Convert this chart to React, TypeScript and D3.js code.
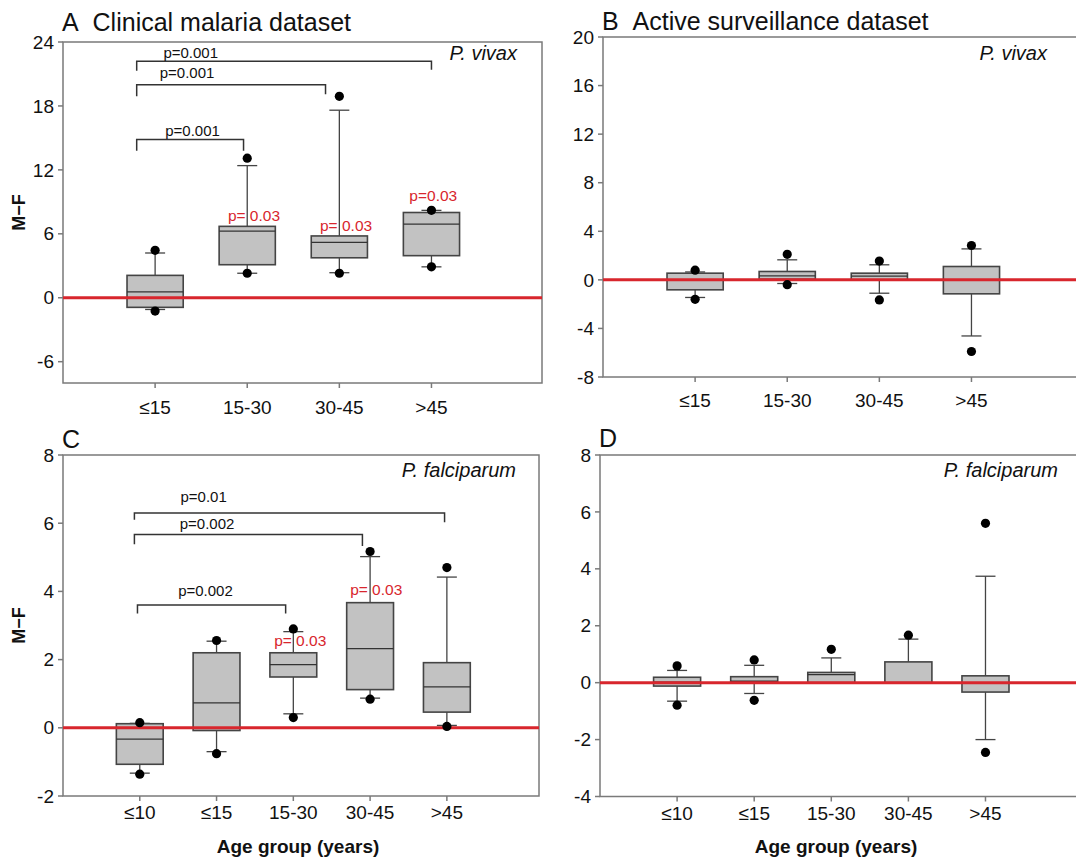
import React from "react";
import { scaleLinear } from "d3";

// age groups
const groupsAB = ["≤15", "15-30", "30-45", ">45"];
const groupsCD = ["≤10", "≤15", "15-30", "30-45", ">45"];

// box stats per group: [lower whisker, q1, median, q3, upper whisker]
const boxesA = [
  [-1.1, -0.9, 0.55, 2.1, 4.2],
  [2.3, 3.1, 6.25, 6.7, 12.4],
  [2.35, 3.75, 5.2, 5.8, 17.6],
  [2.9, 3.95, 6.9, 8.0, 8.2],
];
const boxesB = [
  [-1.45, -0.82, -0.05, 0.55, 0.65],
  [-0.3, 0.05, 0.33, 0.69, 1.65],
  [-1.1, 0.0, 0.3, 0.55, 1.24],
  [-4.62, -1.15, -0.05, 1.1, 2.55],
];
const boxesC = [
  [-1.33, -1.07, -0.33, 0.12, 0.13],
  [-0.7, -0.08, 0.73, 2.2, 2.54],
  [0.41, 1.49, 1.85, 2.2, 2.82],
  [0.87, 1.12, 2.32, 3.67, 5.02],
  [0.07, 0.46, 1.2, 1.91, 4.42],
];
const boxesD = [
  [-0.65, -0.12, 0.02, 0.19, 0.43],
  [-0.38, 0.0, 0.05, 0.21, 0.61],
  [0.0, 0.0, 0.28, 0.36, 0.87],
  [0.0, 0.0, 0.0, 0.73, 1.53],
  [-2.0, -0.33, 0.0, 0.24, 3.74],
];

// outlier dots per group: [low, high]
const dotsA = [[-1.25, 4.45], [2.3, 13.1], [2.3, 18.9], [2.9, 8.2]];
const dotsB = [[-1.6, 0.8], [-0.4, 2.1], [-1.65, 1.55], [-5.9, 2.83]];
const dotsC = [[-1.36, 0.15], [-0.76, 2.56], [0.3, 2.9], [0.84, 5.17], [0.04, 4.7]];
const dotsD = [[-0.79, 0.59], [-0.62, 0.8], [null, 1.17], [null, 1.67], [-2.45, 5.6]];

// y ticks
const ticksA = [-6, 0, 6, 12, 18, 24];
const ticksB = [-8, -4, 0, 4, 8, 12, 16, 20];
const ticksC = [-2, 0, 2, 4, 6, 8];
const ticksD = [-4, -2, 0, 2, 4, 6, 8];

// significance brackets: ends in group units, bar / leg heights in data units
const bracketsA = [
  { a: 0.8, b: 4.0, y: 22.2, ya: 21.3, yb: 21.4, text: "p=0.001", tx: 1.09, ty: 22.46 },
  { a: 0.8, b: 2.85, y: 20.0, ya: 18.9, yb: 19.1, text: "p=0.001", tx: 1.05, ty: 20.6 },
  { a: 0.8, b: 1.96, y: 14.85, ya: 13.8, yb: 13.8, text: "p=0.001", tx: 1.11, ty: 15.17 },
];
const bracketsC = [
  { a: 0.93, b: 4.97, y: 6.3, ya: 6.1, yb: 6.03, text: "p=0.01", tx: 1.53, ty: 6.62 },
  { a: 0.93, b: 3.9, y: 5.67, ya: 5.38, yb: 5.33, text: "p=0.002", tx: 1.52, ty: 5.82 },
  { a: 0.97, b: 2.9, y: 3.6, ya: 3.35, yb: 3.35, text: "p=0.002", tx: 1.5, ty: 3.86 },
];

// red p-values vs. zero
const redA = [
  { text: "p= 0.03", tx: 1.79, ty: 7.2 },
  { text: "p= 0.03", tx: 2.79, ty: 6.26 },
  { text: "p=0.03", tx: 3.76, ty: 9.07 },
];
const redC = [
  { text: "p= 0.03", tx: 2.75, ty: 2.39 },
  { text: "p= 0.03", tx: 3.74, ty: 3.89 },
];

const FONT = "'Liberation Sans', Arial, Helvetica, sans-serif";
const RED = "#d8262d";

const Panel = ({ cfg }) => {
  const {
    left, top, right, bottom, domain, ticks, groups, boxes, dots,
    brackets = [], reds = [], title, species, speciesX, speciesDy,
    xLabelDy, yTitle, xTitle, titleY,
  } = cfg;
  const n = groups.length;
  const x = scaleLinear().domain([0, n + 1.2]).range([left, right]);
  const y = scaleLinear().domain(domain).range([bottom, top]);
  const step = x(1) - x(0);
  const bw = step * 0.61;
  const cap = 10;

  return (
    <g fontFamily={FONT}>
      <text x={left - 1} y={titleY} fontSize={25} fill="#111" xmlSpace="preserve">
        {title}
      </text>
      <rect x={left} y={top} width={right - left} height={bottom - top}
        fill="none" stroke="#7a7a7a" strokeWidth={1.5} />
      {ticks.map((t) => (
        <g key={t}>
          <line x1={left - 5} x2={left} y1={y(t)} y2={y(t)} stroke="#7a7a7a" strokeWidth={1.5} />
          <text x={left - 9} y={y(t)} dy="0.35em" textAnchor="end" fontSize={19} fill="#111">
            {t}
          </text>
        </g>
      ))}
      {groups.map((g, i) => (
        <g key={g + i}>
          <line x1={x(i + 1)} x2={x(i + 1)} y1={bottom} y2={bottom + 5} stroke="#7a7a7a" strokeWidth={1.5} />
          <text x={x(i + 1)} y={bottom + xLabelDy} textAnchor="middle" fontSize={19} fill="#111">
            {g}
          </text>
        </g>
      ))}
      {boxes.map(([lo, q1, med, q3, hi], i) => {
        const cx = x(i + 1);
        return (
          <g key={i} stroke="#444" strokeWidth={1.3}>
            <line x1={cx} x2={cx} y1={y(hi)} y2={y(q3)} />
            <line x1={cx} x2={cx} y1={y(q1)} y2={y(lo)} />
            <line x1={cx - cap} x2={cx + cap} y1={y(hi)} y2={y(hi)} />
            <line x1={cx - cap} x2={cx + cap} y1={y(lo)} y2={y(lo)} />
            <rect x={cx - bw / 2} y={y(q3)} width={bw} height={Math.max(y(q1) - y(q3), 1)}
              fill="#c2c2c2" strokeWidth={1.6} />
            <line x1={cx - bw / 2} x2={cx + bw / 2} y1={y(med)} y2={y(med)} stroke="#333" />
          </g>
        );
      })}
      <line x1={left} x2={right} y1={y(0)} y2={y(0)} stroke={RED} strokeWidth={3} />
      {dots.map((pair, i) =>
        pair.map((v, j) =>
          v === null ? null : (
            <circle key={i + "-" + j} cx={x(i + 1)} cy={y(v)} r={4.6} fill="#000" />
          )
        )
      )}
      {brackets.map((b, i) => (
        <g key={i}>
          <path
            d={`M${x(b.a)},${y(b.ya)}V${y(b.y)}H${x(b.b)}V${y(b.yb)}`}
            fill="none" stroke="#333" strokeWidth={1.5}
          />
          <text x={x(b.tx)} y={y(b.ty)} fontSize={15} fill="#111">
            {b.text}
          </text>
        </g>
      ))}
      {reds.map((r, i) => (
        <text key={i} x={x(r.tx)} y={y(r.ty)} fontSize={15.5} fill={RED} xmlSpace="preserve">
          {r.text}
        </text>
      ))}
      <text x={speciesX} y={top + speciesDy} textAnchor="end" fontSize={20}
        fontStyle="italic" fill="#111">
        {species}
      </text>
      {yTitle && (
        <text transform={`translate(25,${(top + bottom) / 2}) rotate(-90)`}
          textAnchor="middle" fontSize={18} fontWeight="bold" fill="#111">
          {yTitle}
        </text>
      )}
      {xTitle && (
        <text x={(left + right) / 2 - 3} y={853} textAnchor="middle" fontSize={19}
          fontWeight="bold" fill="#111">
          {xTitle}
        </text>
      )}
    </g>
  );
};

const panels = [
  {
    left: 63, top: 42, right: 542, bottom: 383, domain: [-8, 24], ticks: ticksA,
    groups: groupsAB, boxes: boxesA, dots: dotsA, brackets: bracketsA, reds: redA,
    title: "A\u00a0\u00a0Clinical malaria dataset", titleY: 31, species: "P. vivax",
    speciesX: 517, speciesDy: 18, xLabelDy: 31, yTitle: "M−F",
  },
  {
    left: 603, top: 37, right: 1082, bottom: 377, domain: [-8, 20], ticks: ticksB,
    groups: groupsAB, boxes: boxesB, dots: dotsB,
    title: "B\u00a0\u00a0Active surveillance dataset", titleY: 30, species: "P. vivax",
    speciesX: 1047, speciesDy: 23, xLabelDy: 30,
  },
  {
    left: 63, top: 455, right: 539, bottom: 796, domain: [-2, 8], ticks: ticksC,
    groups: groupsCD, boxes: boxesC, dots: dotsC, brackets: bracketsC, reds: redC,
    title: "C", titleY: 448, species: "P. falciparum",
    speciesX: 516, speciesDy: 22, xLabelDy: 23, yTitle: "M−F", xTitle: "Age group (years)",
  },
  {
    left: 600, top: 455, right: 1078, bottom: 796.5, domain: [-4, 8], ticks: ticksD,
    groups: groupsCD, boxes: boxesD, dots: dotsD,
    title: "D", titleY: 447, species: "P. falciparum",
    speciesX: 1058, speciesDy: 22, xLabelDy: 23, xTitle: "Age group (years)",
  },
];

export default function App() {
  return (
    <svg width={1076} height={862} style={{ position: "absolute", left: 0, top: 0, background: "#fff" }}>
      {panels.map((p, i) => (
        <Panel key={i} cfg={p} />
      ))}
    </svg>
  );
}
